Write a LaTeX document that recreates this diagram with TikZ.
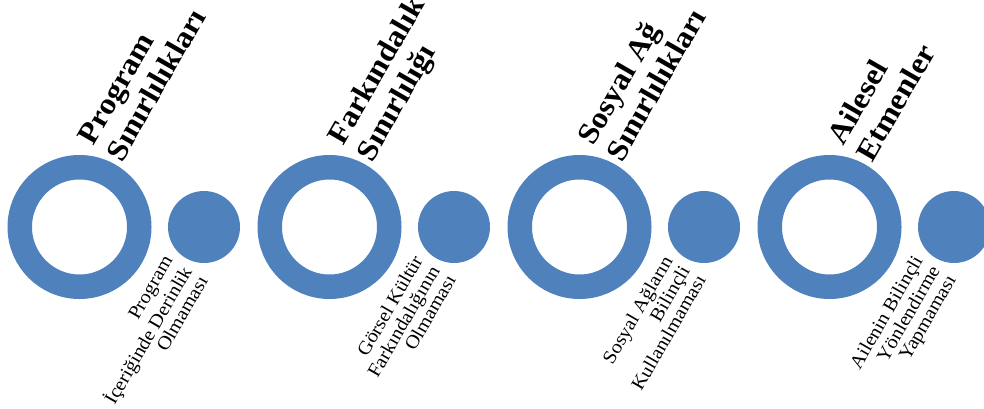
\documentclass[tikz,border=0pt]{standalone}
\usepackage{fontspec}
\setmainfont{Liberation Serif}[FakeStretch=1.07]
\newfontfamily\titlefont{Liberation Serif}[FakeStretch=1.07]
\definecolor{accent}{RGB}{79,129,189}
\tikzset{
  ring/.style={circle, draw=accent, line width=24.5pt, minimum size=119.5pt, inner sep=0pt},
  dot/.style={circle, fill=accent, minimum size=72pt, inner sep=0pt},
  title/.style={rotate=60, anchor=north west, align=left, inner sep=0pt,
    font=\titlefont\bfseries\fontsize{30}{33}\selectfont},
  sub/.style={rotate=60, anchor=north east, align=right, inner sep=0pt,
    font=\fontsize{19}{18.5}\selectfont}
}
\begin{document}
\begin{tikzpicture}[x=1pt,y=-1pt]
\useasboundingbox (0,0) rectangle (984,409);
\clip (0,0) rectangle (984,409);
% group 1
\node[ring] (r1) at (79.5,227) {};
\node[dot] (d1) at (204,227) {};
\node[title] (t1) at (73.3,135.1) {\strut Program\\Sınırlılıkları};
\node[sub] (s1) at (161.8,253.5) {\strut Program\\İçeriğinde Derinlik\\Olmaması};
% group 2
\node[ring] (r2) at (329.5,227) {};
\node[dot] (d2) at (454,227) {};
\node[title] (t2) at (323.3,135.1) {\strut Farkındalık\\Sınırlılığı};
\node[sub] (s2) at (411.8,253.5) {\strut Görsel Kültür\\Farkındalığının\\Olmaması};
% group 3
\node[ring] (r3) at (579.5,227) {};
\node[dot] (d3) at (704,227) {};
\node[title] (t3) at (573.3,135.1) {\strut Sosyal Ağ\\Sınırlılıkları};
\node[sub] (s3) at (661.8,253.5) {\strut Sosyal Ağların\\Bilinçli\\Kullanılmaması};
% group 4
\node[ring] (r4) at (829.5,227) {};
\node[dot] (d4) at (954,227) {};
\node[title] (t4) at (823.3,135.1) {\strut Ailesel\\Etmenler};
\node[sub] (s4) at (911.8,253.5) {\strut Ailenin Bilinçli\\Yönlendirme\\Yapmaması};
\end{tikzpicture}
\end{document}
